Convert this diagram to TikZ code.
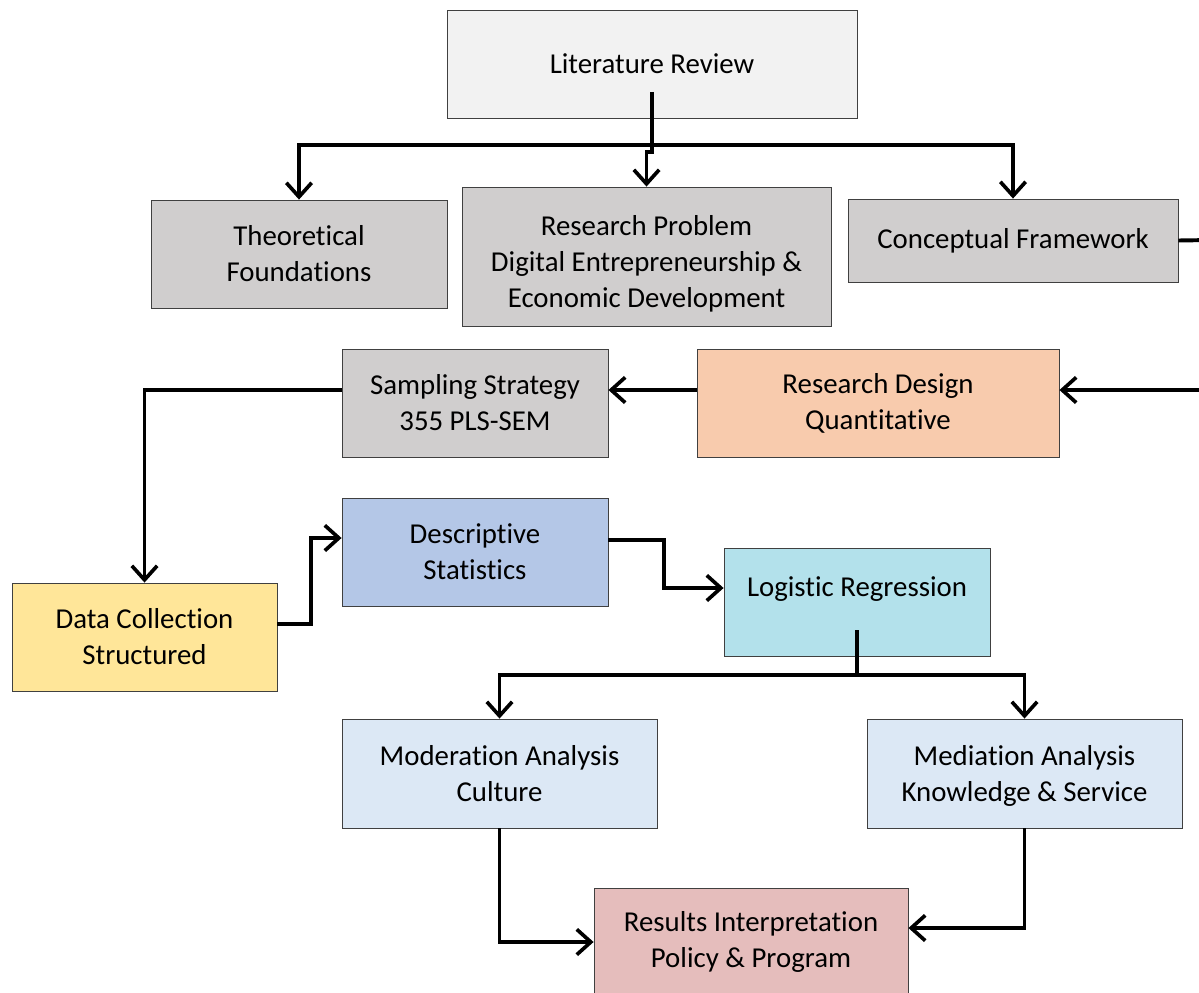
\documentclass[tikz,border=0pt]{standalone}
\usepackage{fontspec}
\setmainfont{Carlito}[Ligatures={NoCommon}]
\usepackage{tikz}
\usetikzlibrary{calc, arrows.meta}

\definecolor{litgray}{HTML}{F2F2F2}
\definecolor{boxgray}{HTML}{D0CECE}
\definecolor{peach}{HTML}{F8CBAD}
\definecolor{paleblue}{HTML}{B4C7E7}
\definecolor{paleyellow}{HTML}{FFE699}
\definecolor{aqua}{HTML}{B3E1EB}
\definecolor{iceblue}{HTML}{DCE8F5}
\definecolor{rosepink}{HTML}{E5BDBC}
\definecolor{edge}{HTML}{404040}

\tikzset{
  box/.style={draw=edge, line width=0.6pt, align=center, inner sep=0pt,
    font=\fontsize{20.5}{25.5}\selectfont},
  boxtext/.style={font=\fontsize{20.5}{25.5}\selectfont, align=center},
  link/.style={line width=2.8pt},
  arr/.style={link, -{Straight Barb[length=10pt,width=18pt,line width=2.6pt]}}
}

\begin{document}
\begin{tikzpicture}
  \useasboundingbox (0,0) rectangle (29.975,-24.8); %画像の範囲
  \node[box, fill=litgray, minimum width=10.25cm, minimum height=2.7cm] (lit) at (16.3,-1.6) {Literature Review};
  \node[box, fill=boxgray, minimum width=7.4cm, minimum height=2.7cm] (theo) at (7.475,-6.35) {Theoretical\\Foundations};
  \node[box, fill=boxgray, minimum width=9.225cm, minimum height=3.475cm,
    label={[boxtext, yshift=-0.18cm]center:Research Problem\\Digital Entrepreneurship \&\\Economic Development}] (prob) at (16.1625,-6.4125) {};
  \node[box, fill=boxgray, minimum width=8.25cm, minimum height=2.075cm] (conc) at (25.325,-6.0125) {Conceptual Framework};
  \node[box, fill=boxgray, minimum width=6.65cm, minimum height=2.7cm] (samp) at (11.875,-10.075) {Sampling Strategy\\355 PLS-SEM};
  \node[box, fill=peach, minimum width=9.05cm, minimum height=2.7cm] (design) at (21.95,-10.075) {Research Design\\Quantitative};
  \node[box, fill=paleblue, minimum width=6.65cm, minimum height=2.7cm] (desc) at (11.875,-13.8) {Descriptive\\Statistics};
  \node[box, fill=paleyellow, minimum width=6.625cm, minimum height=2.7cm] (data) at (3.6125,-15.925) {Data Collection\\Structured};
  \node[box, fill=aqua, minimum width=6.65cm, minimum height=2.7cm,
    label={[boxtext, yshift=0.33cm]center:Logistic Regression}] (logit) at (21.425,-15.05) {};
  \node[box, fill=iceblue, minimum width=7.875cm, minimum height=2.725cm] (moder) at (12.4875,-19.3375) {Moderation Analysis\\Culture};
  \node[box, fill=iceblue, minimum width=7.875cm, minimum height=2.725cm,
    label={[boxtext, yshift=-0.07cm]center:Mediation Analysis\\Knowledge \& Service}] (medi) at (25.6125,-19.3375) {};
  \node[box, fill=rosepink, minimum width=7.85cm, minimum height=2.7cm] (result) at (18.775,-23.55) {Results Interpretation\\Policy \& Program};

  \coordinate (litin) at ($(lit.center)+(0,-0.7)$);
  \coordinate (hub) at (16.3,-3.625); %分岐点
  \draw[link] (litin) -- (hub);
  \draw[arr] (hub) -| (theo.north);
  \draw[arr] (hub) -| (conc.north);
  \draw[arr] (hub) -- ++(0,-0.175) -| (prob.north);

  \coordinate (edgeA) at (30.3,-6.0); %右端の外
  \coordinate (edgeB) at (30.3,-9.75);
  \draw[link] (conc.east) -- (edgeA);
  \draw[arr] (edgeB) -- (edgeB -| design.east);
  \draw[arr] (design.west |- edgeB) -- (samp.east |- edgeB);
  \draw[arr] (samp.west |- edgeB) -| (data.north);

  \draw[arr] ($(data.east)+(0,0.325)$) -- ++(0.85,0) |- ($(desc.west)+(0,0.35)$);
  \draw[arr] ($(desc.east)+(0,0.3)$) -- ++(1.4,0) |- ($(logit.west)+(0,0.35)$);

  \coordinate (login) at ($(logit.center)+(0,-0.7)$);
  \coordinate (hubB) at (21.425,-16.875); %分岐点
  \draw[link] (login) -- (hubB);
  \draw[arr] (hubB) -| (moder.north);
  \draw[arr] (hubB) -| (medi.north);

  \draw[arr] (moder.south) |- (result.west);
  \draw[arr] (medi.south) |- ($(result.east)+(0,0.35)$);
\end{tikzpicture}
\end{document}
